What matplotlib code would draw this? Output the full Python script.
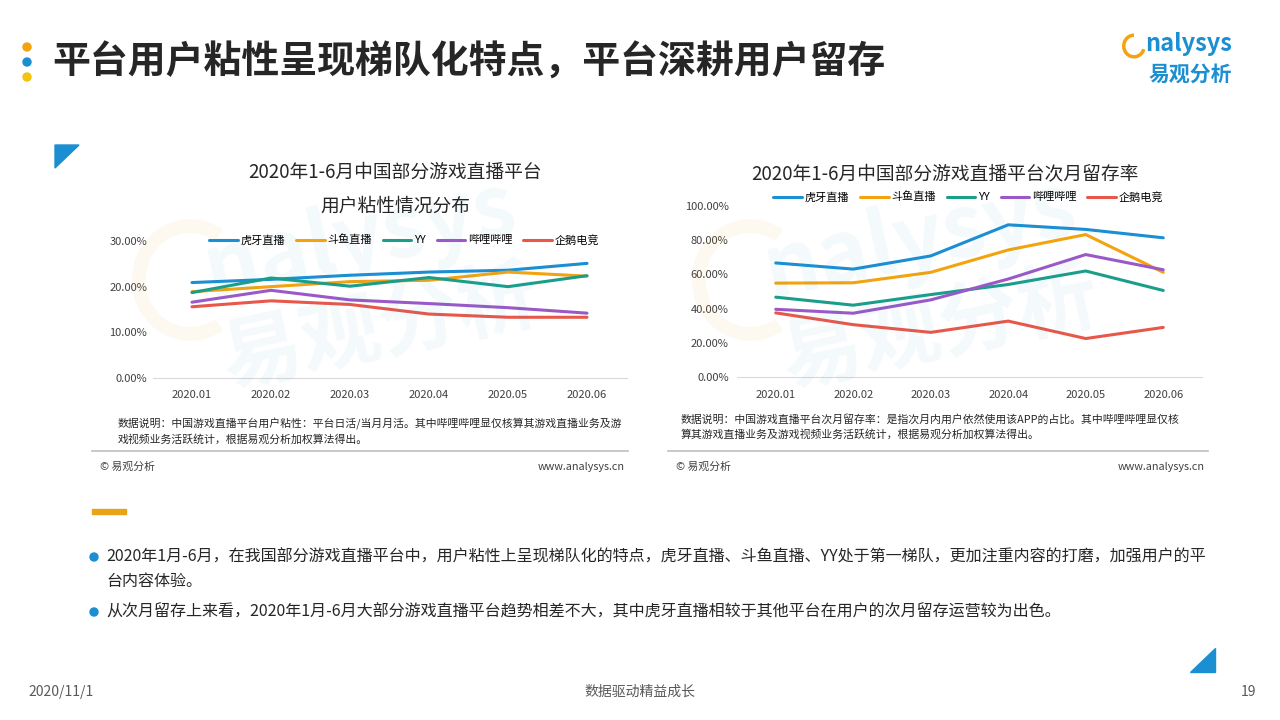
import matplotlib
matplotlib.use("Agg")
import matplotlib.pyplot as plt
from matplotlib.patches import Polygon, Ellipse, Arc
from matplotlib.ticker import FuncFormatter

plt.rcParams['font.family'] = ['Noto Sans CJK SC', 'DejaVu Sans']

months = ["2020.01", "2020.02", "2020.03", "2020.04", "2020.05", "2020.06"]
platforms = ["虎牙直播", "斗鱼直播", "YY", "哔哩哔哩", "企鹅电竞"]
colors = ["#1b8fd1", "#f2a30f", "#1a9e8a", "#9b59c8", "#e8584a"]

# 用户粘性 (%)
huya_stick = [20.9, 21.6, 22.5, 23.2, 23.6, 25.1]
douyu_stick = [18.9, 20.0, 21.1, 21.4, 23.2, 22.3]
yy_stick = [18.7, 21.9, 20.1, 22.0, 20.0, 22.4]
bili_stick = [16.6, 19.2, 17.1, 16.3, 15.4, 14.2]
qie_stick = [15.6, 16.9, 16.1, 14.0, 13.3, 13.3]

# 次月留存率 (%)
huya_ret = [66.7, 63.1, 70.8, 89.0, 86.3, 81.4]
douyu_ret = [54.9, 55.1, 61.2, 74.3, 83.3, 61.2]
yy_ret = [46.7, 42.0, 48.2, 54.1, 62.0, 50.6]
bili_ret = [39.6, 37.3, 45.1, 57.3, 71.6, 62.7]
qie_ret = [37.5, 30.6, 26.1, 32.7, 22.5, 29.0]

stick_series = [huya_stick, douyu_stick, yy_stick, bili_stick, qie_stick]
ret_series = [huya_ret, douyu_ret, yy_ret, bili_ret, qie_ret]

W, H = 1280, 720
fig = plt.figure(figsize=(12.8, 7.2), dpi=100)
fig.patch.set_facecolor("white")


def fx(x):
    return x / W


def fy(y):
    return 1 - y / H


def rect(l, t, r, b):
    return [fx(l), fy(b), (r - l) / W, (b - t) / H]


def dot(x, y, r, c):
    fig.patches.append(Ellipse((fx(x), fy(y)), 2 * r / W, 2 * r / H,
                               transform=fig.transFigure, color=c, zorder=5))


# faint watermarks
for cx, cy in [(300, 300), (860, 300)]:
    fig.text(fx(cx + 60), fy(cy - 60), "nalysys", fontsize=62, color="#1b8fd1", alpha=0.05,
             rotation=12, ha="center", va="center", fontweight="bold", style="italic")
    fig.text(fx(cx + 80), fy(cy + 30), "易观分析", fontsize=58, color="#1b8fd1", alpha=0.05,
             rotation=12, ha="center", va="center", fontweight="bold")
    fig.patches.append(Arc((fx(cx - 110), fy(cy - 20)), 0.08, 0.15, theta1=70, theta2=290,
                           transform=fig.transFigure, color="#f2a30f", alpha=0.06, lw=10))

# header
fig.text(fx(52), fy(62), "平台用户粘性呈现梯队化特点，平台深耕用户留存", fontsize=27.3,
         fontweight="bold", color="#262626", va="center", ha="left")
for yy, c in [(47, "#f2a30f"), (62, "#1b8fd1"), (77, "#f2c30f")]:
    dot(27, yy, 4, c)
# logo
fig.text(fx(1145), fy(44), "nalysys", fontsize=17, fontweight="bold", style="italic",
         color="#1b8fd1", va="center", ha="left")
fig.patches.append(Arc((fx(1134), fy(46)), 0.016, 0.03, theta1=90, theta2=330,
                       transform=fig.transFigure, color="#f2a30f", lw=2.5))
fig.text(fx(1190), fy(74), "易观分析", fontsize=15, fontweight="bold",
         color="#1b8fd1", va="center", ha="center")

# triangles
fig.patches.append(Polygon([(fx(55), fy(145)), (fx(79), fy(145)), (fx(55), fy(168))],
                           closed=True, transform=fig.transFigure, color="#1b8fd1"))
fig.patches.append(Polygon([(fx(1215), fy(648)), (fx(1215), fy(672)), (fx(1190), fy(672))],
                           closed=True, transform=fig.transFigure, color="#1b8fd1"))


def draw_chart(ax, series, ymax, ystep, ylabelpad):
    ax.set_facecolor("none")
    x = list(range(len(months)))
    for vals, name, c in zip(series, platforms, colors):
        ax.plot(x, vals, color=c, lw=2.2, label=name, solid_capstyle="round")
    ax.set_xlim(-0.5, len(months) - 0.5)
    ax.set_ylim(0, ymax)
    ax.set_xticks(x)
    ax.set_xticklabels(months)
    ax.set_yticks([i * ystep for i in range(int(ymax / ystep) + 1)])
    ax.yaxis.set_major_formatter(FuncFormatter(lambda v, p: f"{v:.2f}%"))
    for s in ["top", "right", "left"]:
        ax.spines[s].set_visible(False)
    ax.spines["bottom"].set_color("#d9d9d9")
    ax.tick_params(axis="both", length=0, labelsize=8, colors="#404040")
    ax.tick_params(axis="x", pad=9)
    ax.tick_params(axis="y", pad=ylabelpad)


legend_kw = dict(loc="center", ncol=5, frameon=False, fontsize=8, handlelength=2.6,
                 handletextpad=0.2, columnspacing=1.0)

# left chart
ax1 = fig.add_axes(rect(152.5, 241, 626.5, 378))
draw_chart(ax1, stick_series, 30, 10, 4)
h, l = ax1.get_legend_handles_labels()
fig.legend(h, l, bbox_to_anchor=(fx(404), fy(240)), **legend_kw)
fig.text(fx(395), fy(172), "2020年1-6月中国部分游戏直播平台", fontsize=13.5,
         ha="center", va="center", color="#262626")
fig.text(fx(395), fy(206), "用户粘性情况分布", fontsize=13.5,
         ha="center", va="center", color="#262626")

# right chart
ax2 = fig.add_axes(rect(737, 206, 1202, 377))
draw_chart(ax2, ret_series, 100, 20, 6)
h, l = ax2.get_legend_handles_labels()
fig.legend(h, l, bbox_to_anchor=(fx(968), fy(197)), **legend_kw)
fig.text(fx(945), fy(174), "2020年1-6月中国部分游戏直播平台次月留存率", fontsize=13.5,
         ha="center", va="center", color="#262626")

# notes and sources
note_left = ["数据说明：中国游戏直播平台用户粘性：平台日活/当月月活。其中哔哩哔哩显仅核算其游戏直播业务及游",
             "戏视频业务活跃统计，根据易观分析加权算法得出。"]
note_right = ["数据说明：中国游戏直播平台次月留存率：是指次月内用户依然使用该APP的占比。其中哔哩哔哩显仅核",
              "算其游戏直播业务及游戏视频业务活跃统计，根据易观分析加权算法得出。"]
for i, line in enumerate(note_left):
    fig.text(fx(118), fy(424 + 15 * i), line, fontsize=7.8, color="#262626", va="center")
for i, line in enumerate(note_right):
    fig.text(fx(681), fy(419 + 15 * i), line, fontsize=7.8, color="#262626", va="center")

for l, r in [(92, 628), (668, 1208)]:
    fig.add_artist(plt.Line2D([fx(l), fx(r)], [fy(451), fy(451)], color="#bfbfbf", lw=1.2))
    fig.text(fx(l + 8), fy(467), "© 易观分析", fontsize=7.8, color="#404040", va="center")
    fig.text(fx(r - 3), fy(467), "www.analysys.cn", fontsize=7.8, color="#404040",
             va="center", ha="right")

# orange bar
fig.patches.append(Polygon([(fx(92), fy(509)), (fx(126), fy(509)), (fx(126), fy(514)), (fx(92), fy(514))],
                           closed=True, transform=fig.transFigure, color="#e8a317"))

# bullet text
bullets = [
    (557, ["2020年1月-6月，在我国部分游戏直播平台中，用户粘性上呈现梯队化的特点，虎牙直播、斗鱼直播、YY处于第一梯队，更加注重内容的打磨，加强用户的平",
           "台内容体验。"]),
    (612, ["从次月留存上来看，2020年1月-6月大部分游戏直播平台趋势相差不大，其中虎牙直播相较于其他平台在用户的次月留存运营较为出色。"]),
]
for y0, lines in bullets:
    dot(94, y0, 4, "#1b8fd1")
    for i, line in enumerate(lines):
        fig.text(fx(106), fy(y0 + 24 * i), line, fontsize=11.55, color="#262626", va="center")

# footer
fig.text(fx(28), fy(692), "2020/11/1", fontsize=10, color="#595959", va="center")
fig.text(fx(640), fy(692), "数据驱动精益成长", fontsize=10, color="#595959", va="center", ha="center")
fig.text(fx(1256), fy(692), "19", fontsize=10, color="#595959", va="center", ha="right")

fig.savefig("out.png", dpi=100)
